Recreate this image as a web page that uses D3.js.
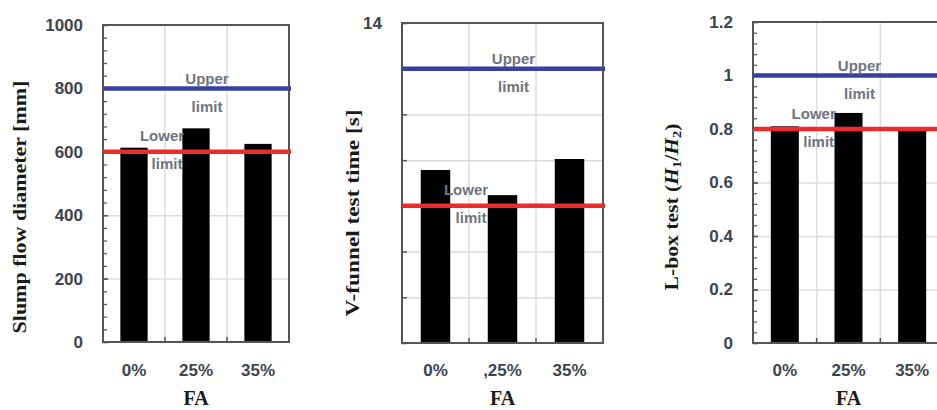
<!DOCTYPE html>
<html>
<head>
<meta charset="utf-8">
<script src="https://cdn.jsdelivr.net/npm/d3@7"></script>
<style>
  html, body { margin: 0; padding: 0; background: #fff; }
  svg { display: block; }
</style>
</head>
<body>
<svg id="chart" width="937" height="410"></svg>
<script>
// ---------- DATA ----------
const slumpCategories = ["0%", "25%", "35%"];
const slumpValues = [613, 674, 625];
const slumpTicks = [0, 200, 400, 600, 800, 1000];
const slumpTickLabels = ["0", "200", "400", "600", "800", "1000"];
const slumpLimits = [600, 800]; // lower, upper

const vfunnelCategories = ["0%", ",25%", "35%"];
const vfunnelValues = [7.57, 6.47, 8.05];
const vfunnelTicks = [0, 2, 4, 6, 8, 10, 12, 14];
const vfunnelTickLabels = ["", "", "", "", "", "", "", "14"];
const vfunnelLimits = [6, 12];

const lboxCategories = ["0%", "25%", "35%"];
const lboxValues = [0.81, 0.86, 0.80];
const lboxTicks = [0, 0.2, 0.4, 0.6, 0.8, 1.0, 1.2];
const lboxTickLabels = ["0", "0.2", "0.4", "0.6", "0.8", "1", "1.2"];
const lboxLimits = [0.8, 1.0];

// ---------- LAYOUT ----------
const panels = [
  { cats: slumpCategories, vals: slumpValues, ticks: slumpTicks, labels: slumpTickLabels,
    limits: slumpLimits, domain: [0, 1000], minorStep: 40,
    x0: 103, x1: 289, y0: 25, y1: 342, clipRight: false,
    title: "Slump flow diameter [mm]", titleX: 20, titleY: 207, titleLen: 253 },
  { cats: vfunnelCategories, vals: vfunnelValues, ticks: vfunnelTicks, labels: vfunnelTickLabels,
    limits: vfunnelLimits, domain: [0, 14], minorStep: null,
    x0: 402, x1: 603, y0: 23, y1: 343, clipRight: false,
    title: "V-funnel test time [s]", titleX: 353, titleY: 213, titleLen: 207 },
  { cats: lboxCategories, vals: lboxValues, ticks: lboxTicks, labels: lboxTickLabels,
    limits: lboxLimits, domain: [0, 1.2], minorStep: 0.04,
    x0: 753, x1: 944, y0: 22, y1: 343, clipRight: true,
    title: "lbox", titleX: 672, titleY: 207, titleLen: 167 }
];

const svg = d3.select("#chart");
const tickFont = "'Liberation Sans', Arial, sans-serif";
const serifFont = "'Liberation Serif', 'Times New Roman', serif";
const tickColor = "#3c4450";
const limitTextColor = "#6f7482";

panels.forEach(p => {
  const g = svg.append("g");
  const W = p.x1 - p.x0;
  const x = d3.scaleBand().domain(p.cats).range([p.x0, p.x1]).paddingInner(0.56).paddingOuter(0.28);
  const y = d3.scaleLinear().domain(p.domain).range([p.y1, p.y0]);
  const step = x.step();
  const boundaries = d3.range(1, p.cats.length).map(i => p.x0 + x.paddingOuter() * step - x.paddingInner() * step / 2 + i * step);

  // horizontal gridlines
  g.append("g")
    .attr("transform", `translate(${p.x0},0)`)
    .call(d3.axisLeft(y).tickValues(p.ticks.slice(1, -1)).tickSize(-W).tickFormat(""))
    .call(s => s.select(".domain").remove())
    .call(s => s.selectAll("line").attr("stroke", "#dcdcdc").attr("stroke-width", 1.5));

  // vertical gridlines
  g.selectAll(".vgrid").data(boundaries).enter().append("line")
    .attr("x1", d => d).attr("x2", d => d)
    .attr("y1", p.y0).attr("y2", p.y1)
    .attr("stroke", "#dcdcdc").attr("stroke-width", 1.5);

  // bottom small ticks at boundaries
  g.selectAll(".btick").data(boundaries).enter().append("line")
    .attr("x1", d => d).attr("x2", d => d)
    .attr("y1", p.y1).attr("y2", p.y1 - 5)
    .attr("stroke", "#555").attr("stroke-width", 1.5);

  // minor ticks
  if (p.minorStep) {
    const minor = d3.range(p.domain[0], p.domain[1] + 1e-9, p.minorStep);
    g.append("g")
      .attr("transform", `translate(${p.x0},0)`)
      .call(d3.axisLeft(y).tickValues(minor).tickSize(-4).tickFormat(""))
      .call(s => s.select(".domain").remove())
      .call(s => s.selectAll("line").attr("stroke", "#555").attr("stroke-width", 1.2));
  }

  // bars
  g.selectAll(".bar").data(p.vals).enter().append("rect")
    .attr("x", (d, i) => x(p.cats[i]))
    .attr("width", x.bandwidth())
    .attr("y", d => y(d))
    .attr("height", d => y(p.domain[0]) - y(d))
    .attr("fill", "#000");

  // box border
  g.append("rect")
    .attr("x", p.x0).attr("y", p.y0)
    .attr("width", W).attr("height", p.y1 - p.y0)
    .attr("fill", "none").attr("stroke", "#555").attr("stroke-width", 2);

  // major ticks + labels
  const labelMap = new Map(p.ticks.map((t, i) => [t, p.labels[i]]));
  g.append("g")
    .attr("transform", `translate(${p.x0},0)`)
    .call(d3.axisLeft(y).tickValues(p.ticks).tickSize(-5).tickPadding(20).tickFormat(d => labelMap.get(d)))
    .call(s => s.select(".domain").remove())
    .call(s => s.selectAll("line").attr("stroke", "#555").attr("stroke-width", 1.5))
    .call(s => s.selectAll("text")
      .attr("font-family", tickFont).attr("font-weight", "bold")
      .attr("font-size", 17).attr("fill", tickColor));

  // limit lines
  const [lower, upper] = p.limits;
  g.append("line")
    .attr("x1", p.x0).attr("x2", p.x1 + 2)
    .attr("y1", y(upper)).attr("y2", y(upper))
    .attr("stroke", "#3a40a2").attr("stroke-width", 4.5);
  g.append("line")
    .attr("x1", p.x0).attr("x2", p.x1 + 2)
    .attr("y1", y(lower)).attr("y2", y(lower))
    .attr("stroke", "#ee2a2a").attr("stroke-width", 4.5);

  // limit labels
  const lt = (txt, cx, cy) => g.append("text")
    .attr("x", cx).attr("y", cy)
    .attr("text-anchor", "middle").attr("dominant-baseline", "central")
    .attr("font-family", tickFont).attr("font-weight", "bold")
    .attr("font-size", 15).attr("fill", limitTextColor).text(txt);
  const upX = x(p.cats[1]) + x.bandwidth() / 2 + 11;
  lt("Upper", upX, y(upper) - 10);
  lt("limit", upX, y(upper) + 18);
  lt("Lower", boundaries[0] - 3, y(lower) - 16);
  lt("limit", boundaries[0] + 2, y(lower) + 12);

  // x labels
  g.selectAll(".xlab").data(p.cats).enter().append("text")
    .attr("x", d => x(d) + x.bandwidth() / 2)
    .attr("y", 370)
    .attr("text-anchor", "middle").attr("dominant-baseline", "central")
    .attr("font-family", tickFont).attr("font-weight", "bold")
    .attr("font-size", 17).attr("fill", tickColor)
    .text(d => d);

  // x title
  const cx = p.clipRight ? x(p.cats[1]) + x.bandwidth() / 2 : (p.x0 + p.x1) / 2;
  g.append("text")
    .attr("x", cx).attr("y", 398)
    .attr("text-anchor", "middle").attr("dominant-baseline", "central")
    .attr("font-family", serifFont).attr("font-weight", "bold")
    .attr("font-size", 20).attr("fill", "#1a1a1a")
    .text("FA");

  // y title
  const tg = g.append("g").attr("transform", `translate(${p.titleX},${p.titleY}) rotate(-90)`);
  const tt = tg.append("text")
    .attr("text-anchor", "middle").attr("dominant-baseline", "central")
    .attr("font-family", serifFont).attr("font-weight", "bold")
    .attr("font-size", 18).attr("fill", "#1a1a1a");
  if (p.title === "lbox") {
    tt.append("tspan").text("L-box test (");
    tt.append("tspan").attr("font-style", "italic").text("H");
    tt.append("tspan").attr("font-size", 12).attr("dy", 4).text("1");
    tt.append("tspan").attr("dy", -4).text("/");
    tt.append("tspan").attr("font-style", "italic").text("H");
    tt.append("tspan").attr("font-size", 12).attr("dy", 4).text("2");
    tt.append("tspan").attr("dy", -4).text(")");
  } else {
    tt.text(p.title);
  }
  const len = tt.node().getComputedTextLength();
  tt.attr("transform", `scale(${p.titleLen / len},1)`);
});
</script>
</body>
</html>
